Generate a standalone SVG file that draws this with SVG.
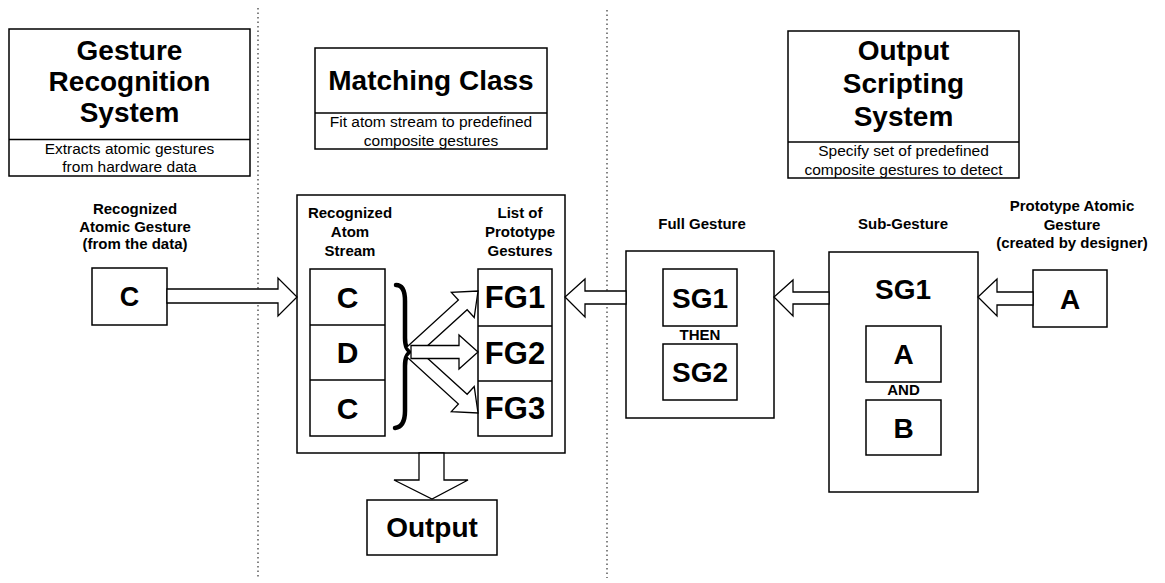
<svg xmlns="http://www.w3.org/2000/svg" width="1165" height="583" viewBox="0 0 1165 583">
<style>
text{font-family:"Liberation Sans",Arial,sans-serif;fill:#000;text-anchor:middle}
.h{font-size:28px;font-weight:bold}
.s{font-size:15.5px}
.l{font-size:15px;font-weight:bold}
.big{font-size:30px;font-weight:bold}
.box{fill:#fff;stroke:#000;stroke-width:1.5}
.arr{fill:#fff;stroke:#000;stroke-width:1.3;stroke-linejoin:miter}
.dot{stroke:#333;stroke-width:1.2;stroke-dasharray:1.5 3;fill:none}
</style>
<rect width="1165" height="583" fill="#fff"/>
<g id="dividers">
<line class="dot" x1="258" y1="8" x2="258" y2="578"/>
<line class="dot" x1="607" y1="10" x2="607" y2="578"/>
</g>
<g id="gesture-recognition-system">
<rect class="box" x="9" y="29" width="241" height="147"/>
<line class="box" x1="9" y1="139.5" x2="250" y2="139.5"/>
<text class="h" x="129.5" y="60">Gesture</text>
<text class="h" x="129.5" y="91">Recognition</text>
<text class="h" x="129.5" y="122">System</text>
<text class="s" x="129.5" y="154">Extracts atomic gestures</text>
<text class="s" x="129.5" y="172">from hardware data</text>
</g>
<g id="matching-class">
<rect class="box" x="315" y="48" width="232" height="101"/>
<line class="box" x1="315" y1="113" x2="547" y2="113"/>
<text class="h" x="431" y="90">Matching Class</text>
<text class="s" x="431" y="127">Fit atom stream to predefined</text>
<text class="s" x="431" y="146">composite gestures</text>
</g>
<g id="output-scripting-system">
<rect class="box" x="788" y="31" width="231" height="147"/>
<line class="box" x1="788" y1="142" x2="1019" y2="142"/>
<text class="h" x="903.5" y="60">Output</text>
<text class="h" x="903.5" y="93">Scripting</text>
<text class="h" x="903.5" y="126">System</text>
<text class="s" x="903.5" y="156">Specify set of predefined</text>
<text class="s" x="903.5" y="175">composite gestures to detect</text>
</g>
<g id="recognized-atomic-gesture">
<text class="l" x="135" y="214">Recognized</text>
<text class="l" x="135" y="232">Atomic Gesture</text>
<text class="l" x="135" y="249">(from the data)</text>
<rect class="box" x="92" y="268" width="75" height="57"/>
<text class="big" x="129.5" y="306" style="font-size:27px">C</text>
</g>
<g id="matcher">
<rect class="box" x="297" y="195" width="268" height="258"/>
<text class="l" x="350" y="218">Recognized</text>
<text class="l" x="350" y="237">Atom</text>
<text class="l" x="350" y="256">Stream</text>
<text class="l" x="520" y="218">List of</text>
<text class="l" x="520" y="237">Prototype</text>
<text class="l" x="520" y="256">Gestures</text>
</g>
<g id="atom-stream">
<rect class="box" x="310" y="269" width="75" height="167"/>
<line class="box" x1="310" y1="325" x2="385" y2="325"/>
<line class="box" x1="310" y1="380" x2="385" y2="380"/>
<text class="big" x="347.5" y="308">C</text>
<text class="big" x="347.5" y="363">D</text>
<text class="big" x="347.5" y="419">C</text>
</g>
<g id="prototype-list">
<rect class="box" x="478" y="269" width="74" height="167"/>
<line class="box" x1="478" y1="326" x2="552" y2="326"/>
<line class="box" x1="478" y1="381" x2="552" y2="381"/>
<text class="big" x="515" y="308" style="font-size:31px">FG1</text>
<text class="big" x="515" y="364" style="font-size:31px">FG2</text>
<text class="big" x="515" y="419" style="font-size:31px">FG3</text>
</g>
<g id="brace">
<path d="M396,285 C403,285 405,292 405,301 L405,338 C405,346 407,351 412,352 C407,353 405,358 405,366 L405,411 C405,420 402,427 395,428" fill="none" stroke="#000" stroke-width="4.5" stroke-linecap="round" stroke-linejoin="round"/>
</g>
<g id="full-gesture">
<text class="l" x="702" y="229">Full Gesture</text>
<rect class="box" x="626" y="251" width="148" height="167"/>
<rect class="box" x="663" y="269" width="74" height="57"/>
<text class="big" x="700" y="308" style="font-size:28px">SG1</text>
<text class="l" x="700" y="340">THEN</text>
<rect class="box" x="663" y="344" width="74" height="56"/>
<text class="big" x="700" y="382" style="font-size:28px">SG2</text>
</g>
<g id="sub-gesture">
<text class="l" x="903" y="229">Sub-Gesture</text>
<rect class="box" x="829" y="252" width="149" height="240"/>
<text class="big" x="903" y="299" style="font-size:28px">SG1</text>
<rect class="box" x="866" y="326" width="75" height="56"/>
<text class="big" x="903.5" y="364" style="font-size:28px">A</text>
<text class="l" x="903.5" y="395">AND</text>
<rect class="box" x="866" y="400" width="75" height="55"/>
<text class="big" x="903.5" y="438" style="font-size:28px">B</text>
</g>
<g id="prototype-atomic-gesture">
<text class="l" x="1072" y="211">Prototype Atomic</text>
<text class="l" x="1072" y="230">Gesture</text>
<text class="l" x="1072" y="248">(created by designer)</text>
<rect class="box" x="1033" y="270" width="74" height="57"/>
<text class="big" x="1070" y="309" style="font-size:28px">A</text>
</g>
<g id="output">
<rect class="box" x="367" y="500" width="130" height="55"/>
<text class="h" x="432" y="537">Output</text>
</g>
<g id="connectors">
<polygon class="arr" points="167,289 278,289 278,278 297,297 278,316 278,303 167,303"/>
<polygon class="arr" points="626,291 585,291 585,279 565,297 585,317 585,304 626,304"/>
<polygon class="arr" points="829,292 793,292 793,280 774,297 793,316 793,304 829,304"/>
<polygon class="arr" points="1033,292 997,292 997,279 978,297 997,316 997,305 1033,305"/>
<polygon class="arr" points="419,453 419,480 394,480 432,499 468,480 444,480 444,453"/>
<polygon class="arr" transform="translate(411,352) rotate(-42.3)" points="0,-6.5 70,-6.5 70,-17 90.6,0 70,17 70,6.5 0,6.5"/>
<polygon class="arr" transform="translate(411,352) rotate(42.3)" points="0,-6.5 70,-6.5 70,-17 90.6,0 70,17 70,6.5 0,6.5"/>
<polygon class="arr" transform="translate(411,352)" points="0,-6.5 48,-6.5 48,-17 67,0 48,17 48,6.5 0,6.5"/>
</g>
</svg>
